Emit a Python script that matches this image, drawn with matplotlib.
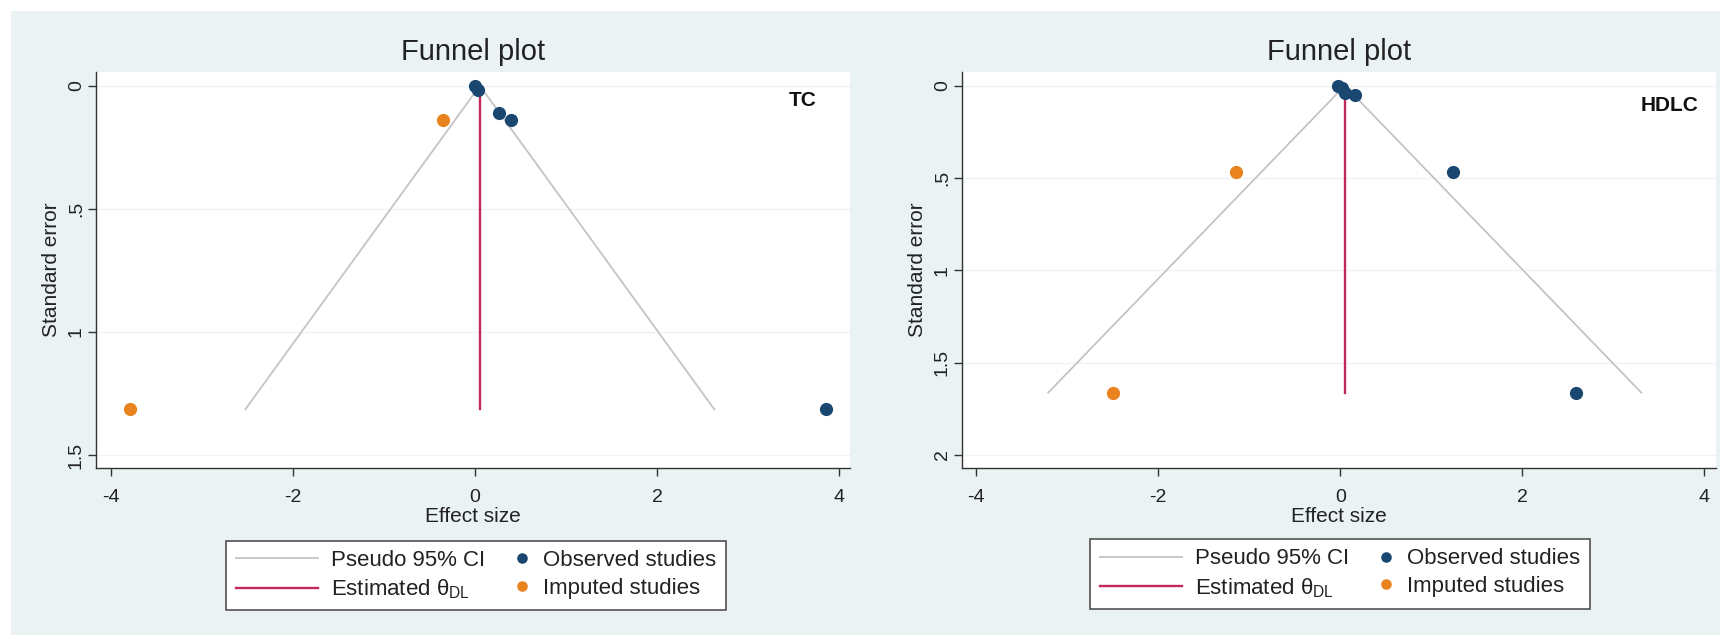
import numpy as np
import matplotlib
matplotlib.use("Agg")
import matplotlib.pyplot as plt
from matplotlib.legend_handler import HandlerLine2D

plt.rcParams['font.family'] = ['Liberation Sans', 'DejaVu Sans']
plt.rcParams['mathtext.fontset'] = 'custom'
plt.rcParams['mathtext.rm'] = 'Liberation Sans'
plt.rcParams['mathtext.it'] = 'Liberation Sans:italic'

# ---------------- data ----------------
tc_obs_es = [0.00, 0.04, 0.27, 0.40, 3.86]
tc_obs_se = [0.000, 0.017, 0.110, 0.137, 1.314]
tc_imp_es = [-0.35, -3.79]
tc_imp_se = [0.137, 1.314]
tc_theta = 0.055
tc_label = "TC"

hdlc_obs_es = [-0.02, 0.02, 0.055, 0.16, 1.24, 2.59]
hdlc_obs_se = [0.000, 0.014, 0.041, 0.050, 0.469, 1.663]
hdlc_imp_es = [-1.146, -2.50]
hdlc_imp_se = [0.469, 1.663]
hdlc_theta = 0.05
hdlc_label = "HDLC"

x_ticks = [-4, -2, 0, 2, 4]
tc_y_ticks = [0, 0.5, 1, 1.5]
tc_y_ticklabels = ["0", ".5", "1", "1.5"]
hdlc_y_ticks = [0, 0.5, 1, 1.5, 2]
hdlc_y_ticklabels = ["0", ".5", "1", "1.5", "2"]

# ---------------- style ----------------
W, H = 1720, 637
BG = "#eaf2f4"
NAVY = "#1a476f"
ORANGE = "#e8831f"
RED = "#c1285c"
CI = "#c4c4c4"
GRID = "#eef3f5"

fig = plt.figure(figsize=(W / 100, H / 100), dpi=100)
fig.patch.set_facecolor("white")
fig.patches.append(plt.Rectangle((11 / W, 0.003), 1 - 11 / W, (H - 11 - 2) / H,
                                 transform=fig.transFigure, facecolor=BG,
                                 edgecolor="none", zorder=-10))


class RightMarker(HandlerLine2D):
    # put the single marker near the right end of the handle box
    def get_xdata(self, legend, xdescent, ydescent, width, height, fontsize):
        m = -xdescent + width - 0.36 * fontsize
        return [m - 1, m + 1], [m]


def px(x0, y0, x1, y1):
    return [x0 / W, 1 - y1 / H, (x1 - x0) / W, (y1 - y0) / H]


def panel(rect, obs_es, obs_se, imp_es, imp_se, theta, xlim, ylim, yticks, yticklabels,
          label, label_xy, legend_rect):
    ax = fig.add_axes(px(*rect))
    ax.set_facecolor("white")
    ax.set_xlim(*xlim)
    ax.set_ylim(*ylim)
    ax.set_xticks(x_ticks)
    ax.set_xticklabels([str(t) for t in x_ticks])
    ax.set_yticks(yticks)
    ax.set_yticklabels(yticklabels, rotation=90, va="center")
    for s in ["top", "right"]:
        ax.spines[s].set_visible(False)
    for s in ["left", "bottom"]:
        ax.spines[s].set_color("#333333")
        ax.spines[s].set_linewidth(1.0)
    ax.tick_params(axis="both", direction="out", length=6, width=1, color="#333333",
                   labelsize=14, labelcolor="#222222")
    ax.tick_params(axis="y", pad=2)
    ax.tick_params(axis="x", pad=9)
    for t in yticks:
        ax.axhline(t, color=GRID, lw=1.0, zorder=0)

    semax = max(max(obs_se), max(imp_se))
    ci_l, = ax.plot([theta - 1.96 * semax, theta, theta + 1.96 * semax], [semax, 0, semax],
                    color=CI, lw=1.3, zorder=1)
    th_l, = ax.plot([theta, theta], [0, semax], color=RED, lw=1.7, zorder=2)
    ob, = ax.plot(obs_es, obs_se, "o", ls="none", color=NAVY, ms=9.5, mew=0, zorder=3)
    im, = ax.plot(imp_es, imp_se, "o", ls="none", color=ORANGE, ms=9.5, mew=0, zorder=3)

    ax.set_xlabel("Effect size", fontsize=15, color="#222222", labelpad=1)
    ax.set_ylabel("Standard error", fontsize=15, color="#222222", labelpad=5)
    ax.set_title("Funnel plot", fontsize=21, color="#222222", pad=9)
    ax.text(label_xy[0], label_xy[1], label, ha="right", va="center", fontsize=15,
            fontweight="bold", color="#111111")

    lx0, ly0, lx1, ly1 = legend_rect
    leg = fig.legend([ci_l, th_l, ob, im],
                     ["Pseudo 95% CI", r"Estimated θ$_{\mathrm{DL}}$",
                      "Observed studies", "Imputed studies"],
                     ncol=2, loc="center",
                     bbox_to_anchor=((lx0 + lx1) / 2 / W, 1 - (ly0 + ly1) / 2 / H),
                     bbox_transform=fig.transFigure, fontsize=16, frameon=True,
                     fancybox=False, edgecolor="#444444", facecolor="white", framealpha=1,
                     handlelength=3.7, handletextpad=0.58, columnspacing=-1.67,
                     labelspacing=0.3, borderpad=0.42, borderaxespad=0, markerscale=0.8,
                     handler_map={ob: RightMarker(), im: RightMarker()})
    leg.get_frame().set_linewidth(1.1)
    for txt in leg.get_texts():
        txt.set_color("#222222")
    return ax


panel((96, 72, 850, 468), tc_obs_es, tc_obs_se, tc_imp_es, tc_imp_se, tc_theta,
      (-4.16, 4.12), (1.552, -0.056), tc_y_ticks, tc_y_ticklabels,
      tc_label, (3.75, 0.058), (225, 539, 727, 612))
panel((962, 72, 1716, 468), hdlc_obs_es, hdlc_obs_se, hdlc_imp_es, hdlc_imp_se, hdlc_theta,
      (-4.157, 4.13), (2.071, -0.074), hdlc_y_ticks, hdlc_y_ticklabels,
      hdlc_label, (3.94, 0.11), (1090, 538, 1590, 610))

fig.savefig("out.png", dpi=100, facecolor=fig.get_facecolor())
